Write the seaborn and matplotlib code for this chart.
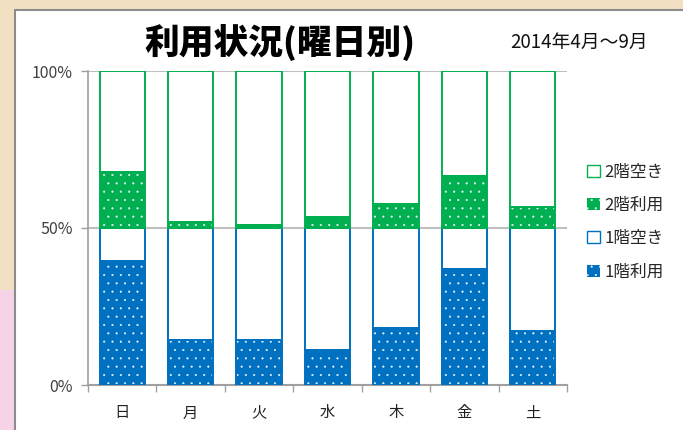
import matplotlib
matplotlib.use("Agg")
import matplotlib.pyplot as plt
import seaborn as sns
import pandas as pd
from matplotlib.patches import Patch, Rectangle

days = ["日", "月", "火", "水", "木", "金", "土"]
f1_used = [39.4, 14.3, 14.3, 11.1, 18.1, 37.1, 17.1]
f1_free = [10.6, 35.7, 35.7, 38.9, 31.9, 12.9, 32.9]
f2_used = [17.9, 1.9, 0.9, 3.5, 7.8, 16.7, 6.7]
f2_free = [32.1, 48.1, 49.1, 46.5, 42.2, 33.3, 43.3]
yticks = [0, 50, 100]
ytick_labels = ["0%", "50%", "100%"]
legend_labels = ["2階空き", "2階利用", "1階空き", "1階利用"]
title = "利用状況(曜日別)"
subtitle = "2014年4月～9月"

sns.set_theme(style="white")
plt.rcParams["font.family"] = ["Noto Sans CJK JP", "DejaVu Sans"]
plt.rcParams["hatch.linewidth"] = 0.3

BLUE = "#0070c0"
GREEN = "#00b050"

df = pd.DataFrame({"day": days, "f1u": f1_used, "f1f": f1_free,
                   "f2u": f2_used, "f2f": f2_free})
b1 = (df["f1u"]).to_numpy()
b2 = (df["f1u"] + df["f1f"]).to_numpy()
b3 = b2 + df["f2u"].to_numpy()

fig = plt.figure(figsize=(6.83, 4.30), dpi=100)
fig.patch.set_facecolor("#f2e0c2")
fig.patches.append(Rectangle((0, 0), 15/683, 140/430, transform=fig.transFigure,
                             facecolor="#f6d3e6", edgecolor="none", zorder=-5))
fig.patches.append(Rectangle((15/683, -0.01), 1.0, 1 - 10/430 + 0.01,
                             transform=fig.transFigure, facecolor="white",
                             edgecolor="#8c8c8c", linewidth=1.5, zorder=-4))

ax = fig.add_axes([88/683, 1 - 385/430, (567 - 88)/683, (385 - 71)/430])
ax.set_zorder(2)
ax.set_facecolor("none")
W = 0.66

layers = [
    ("f1u", 0, BLUE, True),
    ("f1f", b1, BLUE, False),
    ("f2u", b2, GREEN, True),
    ("f2f", b3, GREEN, False),
]
for col, bottom, c, filled in layers:
    if filled:
        sns.barplot(data=df, x="day", y=col, bottom=bottom, color=c, width=W,
                    saturation=1, edgecolor="#e8f2fb", hatch="..", linewidth=0,
                    ax=ax, zorder=3)
    sns.barplot(data=df, x="day", y=col, bottom=bottom, width=W, saturation=1,
                color=c, fill=False, linewidth=1.4, ax=ax, zorder=4)

ax.set_xlim(-0.5, 6.5)
ax.set_ylim(0, 100)
ax.set_yticks(yticks)
ax.set_yticklabels(ytick_labels, fontsize=11.5, color="#404040")
ax.set_xlabel("")
ax.set_ylabel("")
ax.tick_params(axis="x", which="major", length=0, pad=14, labelsize=11, labelcolor="#222222")
ax.set_xticks([i - 0.5 for i in range(8)], minor=True)
ax.tick_params(axis="x", which="minor", length=5, color="#a0a0a0", width=1, direction="out", bottom=True)
ax.tick_params(axis="y", length=5, color="#a0a0a0", width=1, direction="out", pad=6, left=True)
for v in [50, 100]:
    ax.axhline(v, color="#bfbfbf", linewidth=1.5, zorder=1)
for s in ["top", "right"]:
    ax.spines[s].set_visible(False)
ax.spines["left"].set_color("#a0a0a0")
ax.spines["bottom"].set_color("#a0a0a0")
ax.spines["left"].set_linewidth(1.2)
ax.spines["bottom"].set_linewidth(1.5)

fig.text(280/683, 1 - 43/430, title, fontsize=25, fontweight="heavy",
         ha="center", va="center", color="black")
fig.text(510/683, 1 - 42/430, subtitle, fontsize=13.5, ha="left", va="center",
         color="#111111")

handles = [
    Patch(facecolor="white", edgecolor=GREEN, linewidth=1.0),
    Patch(facecolor=GREEN, edgecolor="#e8f2fb", hatch="..", linewidth=0),
    Patch(facecolor="white", edgecolor=BLUE, linewidth=1.0),
    Patch(facecolor=BLUE, edgecolor="#e8f2fb", hatch="..", linewidth=0),
]
fig.legend(handles, legend_labels, loc="center left",
           bbox_to_anchor=(587/683, 1 - 222/430), frameon=False, fontsize=12,
           labelspacing=0.98, handlelength=0.75, handleheight=0.75,
           handletextpad=0.3, borderaxespad=0, borderpad=0)

fig.savefig("out.png", dpi=100)
